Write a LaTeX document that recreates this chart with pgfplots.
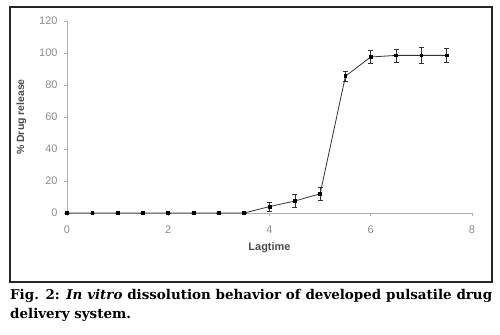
\documentclass[border=0pt]{standalone}
\usepackage{pgfplots}
\pgfplotsset{compat=1.18}
\usepackage{fontspec}
\setmainfont{DejaVu Serif}
\newfontfamily\sansf{Liberation Sans}
\definecolor{axgray}{RGB}{175,175,175}
\definecolor{lblgray}{RGB}{140,140,140}
\begin{document}
\begin{tikzpicture}[x=1bp,y=1bp]
\path[use as bounding box] (0,0) rectangle (500,334);
\draw[line width=1.2bp, black!85] (10,52) rectangle (492,327);
\begin{axis}[
  at={(67bp,121bp)}, anchor=origin,
  scale only axis, width=405bp, height=192bp,
  xmin=0, xmax=8, ymin=0, ymax=120,
  clip=false,
  axis lines=left,
  axis line style={-, axgray, line width=1bp},
  xtick={0,2,4,6,8}, ytick={0,20,40,60,80,100,120},
  tick align=outside, major tick length=3bp,
  tick style={axgray, line width=0.8bp},
  ticklabel style={font=\sansf\fontsize{11}{11}\selectfont, text=lblgray},
  /pgf/number format/assume math mode=true,
  xticklabel style={yshift=-6bp},
  yticklabel style={xshift=-3bp},
  xlabel={\sansf\bfseries Lagtime}, xlabel style={font=\fontsize{11}{12}\selectfont, text=black!70, yshift=-2bp},
  ylabel={\sansf\bfseries \% Drug release}, ylabel style={font=\fontsize{10.5}{11}\selectfont, text=black!70, yshift=6bp},
]
\addplot[black!80, line width=0.8bp, mark=square*, mark size=1.4bp, mark options={black},
  error bars/.cd, y dir=both, y explicit, error mark options={rotate=90, mark size=2.5bp, black!80, line width=0.6bp},
  error bar style={black!80, line width=0.6bp}]
coordinates {
(0,0) +- (0,0)
(0.5,0) +- (0,0)
(1,0) +- (0,0)
(1.5,0) +- (0,0)
(2,0) +- (0,0)
(2.5,0) +- (0,0)
(3,0) +- (0,0)
(3.5,0) +- (0,0)
(4,4) +- (0,3)
(4.5,7.5) +- (0,4)
(5,12) +- (0,4)
(5.5,85.5) +- (0,3)
(6,97.5) +- (0,4)
(6.5,98.5) +- (0,4)
(7,98.5) +- (0,5)
(7.5,98.5) +- (0,4.5)
};
\end{axis}
\node[anchor=north west, text width=482bp, align=justify, inner sep=0pt, font=\fontsize{13.5}{19}\selectfont\bfseries] at (10,45)
{Fig. 2: \textit{In vitro} dissolution behavior of developed pulsatile drug delivery system.};
\end{tikzpicture}
\end{document}
